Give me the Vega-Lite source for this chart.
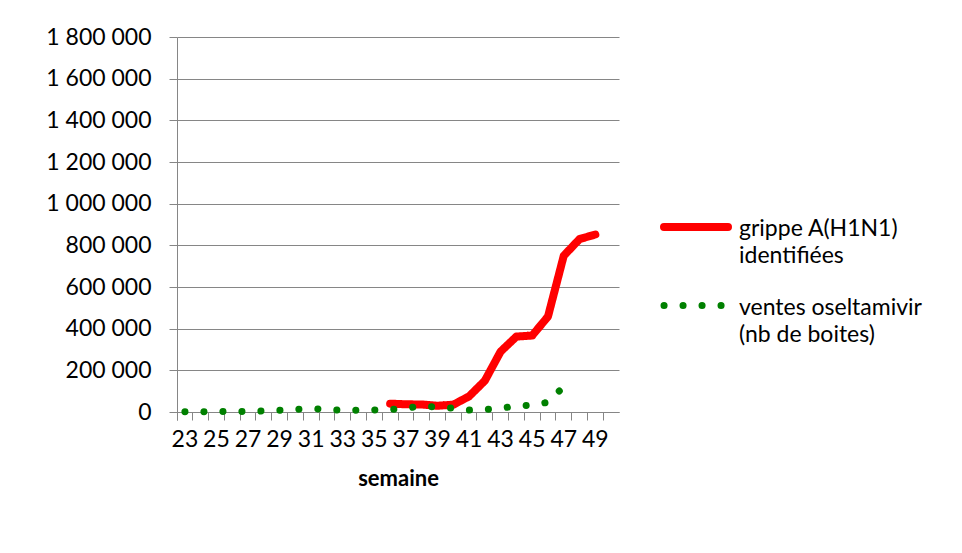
{
  "$schema": "https://vega.github.io/schema/vega-lite/v6.json",
  "width": 442,
  "height": 375,
  "autosize": {"type": "none"},
  "padding": {"left": 177, "top": 37, "right": 343, "bottom": 141},
  "background": "white",
  "config": {
    "locale": {"number": {"decimal": ",", "thousands": " ", "grouping": [3], "currency": ["", " €"]}},
    "font": "Lato",
    "view": {"stroke": null}
  },
  "data": {
    "values": [
      {"week": 36, "series": "grippe A(H1N1) identifiées", "value": 40000},
      {"week": 37, "series": "grippe A(H1N1) identifiées", "value": 37000},
      {"week": 38, "series": "grippe A(H1N1) identifiées", "value": 36000},
      {"week": 39, "series": "grippe A(H1N1) identifiées", "value": 30000},
      {"week": 40, "series": "grippe A(H1N1) identifiées", "value": 35000},
      {"week": 41, "series": "grippe A(H1N1) identifiées", "value": 75000},
      {"week": 42, "series": "grippe A(H1N1) identifiées", "value": 150000},
      {"week": 43, "series": "grippe A(H1N1) identifiées", "value": 290000},
      {"week": 44, "series": "grippe A(H1N1) identifiées", "value": 362000},
      {"week": 45, "series": "grippe A(H1N1) identifiées", "value": 367000},
      {"week": 46, "series": "grippe A(H1N1) identifiées", "value": 458000},
      {"week": 47, "series": "grippe A(H1N1) identifiées", "value": 750000},
      {"week": 48, "series": "grippe A(H1N1) identifiées", "value": 830000},
      {"week": 49, "series": "grippe A(H1N1) identifiées", "value": 852000},
      {"week": 23, "series": "ventes oseltamivir (nb de boites)", "value": 1000},
      {"week": 24, "series": "ventes oseltamivir (nb de boites)", "value": 1500},
      {"week": 25, "series": "ventes oseltamivir (nb de boites)", "value": 2000},
      {"week": 26, "series": "ventes oseltamivir (nb de boites)", "value": 2500},
      {"week": 27, "series": "ventes oseltamivir (nb de boites)", "value": 3000},
      {"week": 28, "series": "ventes oseltamivir (nb de boites)", "value": 5000},
      {"week": 29, "series": "ventes oseltamivir (nb de boites)", "value": 8000},
      {"week": 30, "series": "ventes oseltamivir (nb de boites)", "value": 13000},
      {"week": 31, "series": "ventes oseltamivir (nb de boites)", "value": 16000},
      {"week": 32, "series": "ventes oseltamivir (nb de boites)", "value": 13000},
      {"week": 33, "series": "ventes oseltamivir (nb de boites)", "value": 7000},
      {"week": 34, "series": "ventes oseltamivir (nb de boites)", "value": 9000},
      {"week": 35, "series": "ventes oseltamivir (nb de boites)", "value": 10000},
      {"week": 36, "series": "ventes oseltamivir (nb de boites)", "value": 12000},
      {"week": 37, "series": "ventes oseltamivir (nb de boites)", "value": 19000},
      {"week": 38, "series": "ventes oseltamivir (nb de boites)", "value": 28000},
      {"week": 39, "series": "ventes oseltamivir (nb de boites)", "value": 24000},
      {"week": 40, "series": "ventes oseltamivir (nb de boites)", "value": 18000},
      {"week": 41, "series": "ventes oseltamivir (nb de boites)", "value": 9000},
      {"week": 42, "series": "ventes oseltamivir (nb de boites)", "value": 12000},
      {"week": 43, "series": "ventes oseltamivir (nb de boites)", "value": 17000},
      {"week": 44, "series": "ventes oseltamivir (nb de boites)", "value": 30000},
      {"week": 45, "series": "ventes oseltamivir (nb de boites)", "value": 32000},
      {"week": 46, "series": "ventes oseltamivir (nb de boites)", "value": 47000},
      {"week": 47, "series": "ventes oseltamivir (nb de boites)", "value": 122000}
    ]
  },
  "encoding": {
    "x": {
      "field": "week",
      "type": "ordinal",
      "scale": {"type": "band", "domain": [23,24,25,26,27,28,29,30,31,32,33,34,35,36,37,38,39,40,41,42,43,44,45,46,47,48,49,50], "paddingInner": 0, "paddingOuter": 0},
      "axis": {
        "title": "semaine",
        "titleFontWeight": "bold",
        "titleFontSize": 22,
        "titleColor": "black",
        "titlePadding": 17,
        "labelAngle": 0,
        "labelExpr": "datum.value % 2 == 1 ? datum.label : ''",
        "labelOverlap": false,
        "labelFontSize": 23,
        "labelColor": "black",
        "labelPadding": 8,
        "bandPosition": 0,
        "tickExtra": true,
        "tickSize": 8,
        "tickColor": "#868686",
        "domainColor": "#868686",
        "grid": false
      }
    },
    "y": {
      "field": "value",
      "type": "quantitative",
      "scale": {"domain": [0, 1800000], "nice": false},
      "axis": {
        "title": null,
        "values": [0, 200000, 400000, 600000, 800000, 1000000, 1200000, 1400000, 1600000, 1800000],
        "format": ",d",
        "grid": true,
        "gridColor": "#868686",
        "tickSize": 8,
        "tickColor": "#868686",
        "domainColor": "#868686",
        "labelFontSize": 23,
        "labelColor": "black",
        "labelPadding": 18
      }
    },
    "color": {
      "field": "series",
      "type": "nominal",
      "scale": {"domain": ["grippe A(H1N1) identifiées", "ventes oseltamivir (nb de boites)"], "range": ["#ff0000", "#008000"]},
      "legend": {
        "title": null,
        "orient": "none",
        "legendX": 483,
        "legendY": 154,
        "symbolType": "stroke",
        "symbolSize": 4096,
        "labelFontSize": 23,
        "labelLimit": 0,
        "labelColor": "black",
        "labelOffset": 7,
        "rowPadding": 2,
        "labelExpr": "datum.label == 'grippe A(H1N1) identifiées' ? ['grippe A(H1N1)', 'identifiées'] : ['ventes oseltamivir', '(nb de boites)']",
        "encode": {
          "symbols": {"update": {"strokeCap": {"value": "round"}}},
          "labels": {"update": {"dy": {"value": 2}, "lineHeight": {"value": 27}}}
        }
      }
    },
    "strokeDash": {
      "field": "series",
      "type": "nominal",
      "scale": {"domain": ["grippe A(H1N1) identifiées", "ventes oseltamivir (nb de boites)"], "range": [[1, 0], [0.1, 18.9]]},
      "legend": null
    },
    "strokeWidth": {
      "field": "series",
      "type": "nominal",
      "scale": {"domain": ["grippe A(H1N1) identifiées", "ventes oseltamivir (nb de boites)"], "range": [8, 7]},
      "legend": null
    }
  },
  "layer": [
    {
      "transform": [{"filter": "datum.series == 'grippe A(H1N1) identifiées'"}],
      "mark": {"type": "line", "strokeCap": "round", "strokeJoin": "round"}
    },
    {
      "transform": [{"filter": "datum.series == 'ventes oseltamivir (nb de boites)'"}],
      "mark": {"type": "line", "strokeCap": "round", "strokeJoin": "round"}
    }
  ]
}
